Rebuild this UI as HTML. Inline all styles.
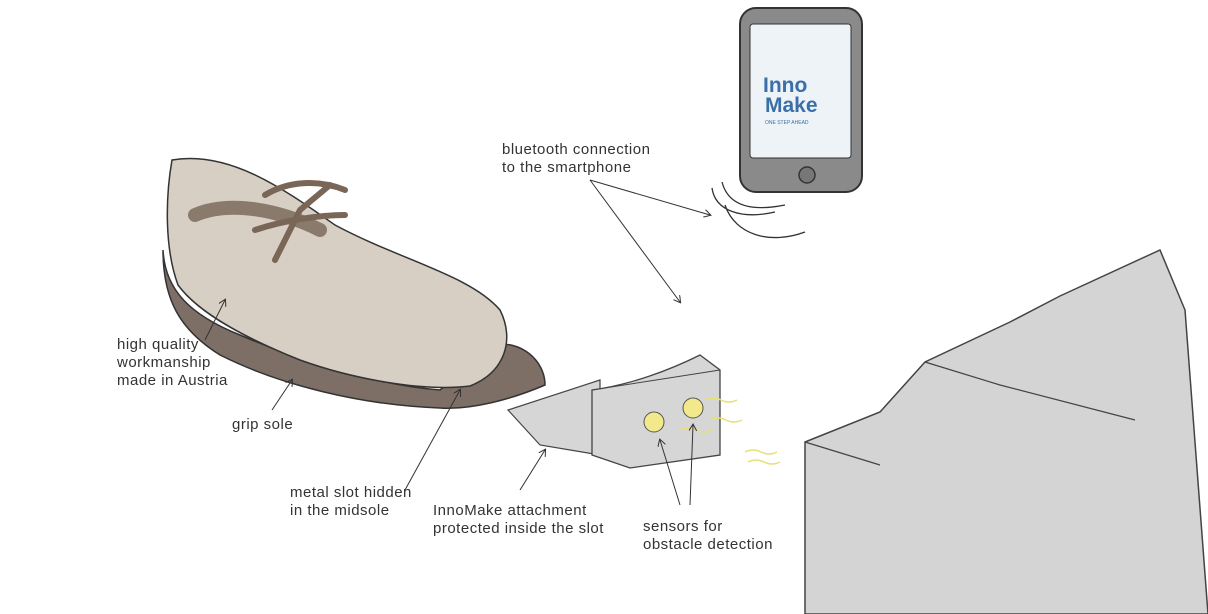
<!DOCTYPE html>
<html><head><meta charset="utf-8"><style>
html,body{margin:0;padding:0;background:#fff;}
svg{display:block}
text{font-family:"Liberation Sans",sans-serif;font-size:15px;letter-spacing:0.5px;fill:#333;}
</style></head><body>
<svg width="1208" height="614" viewBox="0 0 1208 614" xmlns="http://www.w3.org/2000/svg">
<defs><marker id="a" markerWidth="8" markerHeight="8" refX="6" refY="4" orient="auto"><path d="M0,0 L7,4 L0,8" fill="none" stroke="#333"/></marker></defs>
<!-- stairs -->
<polygon points="805,442 880,412 925,362 1010,322 1060,296 1160,250 1185,310 1208,614 805,614" fill="#d4d4d4" stroke="#444" stroke-width="1.5"/>
<path d="M805,442 L880,465 M925,362 L1000,385 L1135,420" stroke="#444" fill="none" stroke-width="1.2"/>
<!-- shoe sole -->
<path d="M163,250 C165,290 190,315 240,335 C310,365 380,385 440,390 L495,345 C520,340 545,360 545,385 C510,400 470,410 440,408 C360,405 280,385 220,355 C180,330 163,300 163,250 Z" fill="#7d6f66" stroke="#333" stroke-width="1.5"/>
<!-- shoe upper -->
<path d="M172,160 C230,150 285,190 335,225 C400,260 470,275 500,310 C515,340 505,372 470,386 C420,392 350,378 300,360 C250,340 200,315 178,285 C165,250 165,200 172,160 Z" fill="#d7cfc4" stroke="#333" stroke-width="1.5"/>
<path d="M195,215 C230,200 280,210 320,230" stroke="#8a7a6b" stroke-width="14" fill="none" stroke-linecap="round"/>
<path d="M265,195 C290,180 320,180 345,190 M255,230 C285,220 320,215 345,215 M275,260 L300,210 L330,185" stroke="#7a6657" stroke-width="6" fill="none" stroke-linecap="round"/>
<!-- phone -->
<rect x="740" y="8" width="122" height="184" rx="16" fill="#8a8a8a" stroke="#333" stroke-width="2"/>
<rect x="750" y="24" width="101" height="134" rx="3" fill="#eef3f8" stroke="#333"/>
<circle cx="807" cy="175" r="8" fill="#777" stroke="#333" stroke-width="1.5"/>
<text x="763" y="92" style="font-size:21px;letter-spacing:0;font-weight:bold;fill:#3a6fa8">Inno</text>
<text x="765" y="112" style="font-size:21px;letter-spacing:0;font-weight:bold;fill:#3a6fa8">Make</text>
<text x="765" y="124" style="font-size:5px;letter-spacing:0;fill:#3a6fa8">ONE STEP AHEAD</text>
<path d="M712,188 C715,210 740,220 775,212 M722,182 C728,205 750,212 785,205 M725,205 C735,235 770,245 805,232" stroke="#333" fill="none" stroke-width="1.3"/>
<!-- attachment -->
<polygon points="508,410 600,380 600,455 540,445" fill="#d6d6d6" stroke="#444" stroke-width="1.2"/>
<path d="M592,390 C630,385 670,370 700,355 L720,370 L720,455 L630,468 L592,455 Z" fill="#d6d6d6" stroke="#444" stroke-width="1.3"/>
<path d="M592,390 L720,370" stroke="#444" fill="none"/>
<circle cx="654" cy="422" r="10" fill="#f2e88c" stroke="#555"/>
<circle cx="693" cy="408" r="10" fill="#f2e88c" stroke="#555"/>
<path d="M705,400 q8,-4 16,0 t16,0 M710,420 q8,-4 16,0 t16,0 M680,430 q8,-4 16,0 t16,0 M745,452 q8,-4 16,0 t16,0 M748,462 q8,-4 16,0 t16,0" stroke="#e8e070" fill="none" stroke-width="1.5"/>
<!-- leader lines -->
<g stroke="#333" stroke-width="1" fill="none" marker-end="url(#a)">
<path d="M590,180 L710,215"/><path d="M590,180 L680,302"/><path d="M205,340 L225,300"/><path d="M272,410 L292,380"/><path d="M405,490 L460,390"/><path d="M520,490 L545,450"/><path d="M680,505 L660,440"/><path d="M690,505 L693,425"/>
</g>
<text x="502" y="154">bluetooth connection</text>
<text x="502" y="172">to the smartphone</text>
<text x="117" y="349">high quality</text>
<text x="117" y="367">workmanship</text>
<text x="117" y="385">made in Austria</text>
<text x="232" y="429">grip sole</text>
<text x="290" y="497">metal slot hidden</text>
<text x="290" y="515">in the midsole</text>
<text x="433" y="515">InnoMake attachment</text>
<text x="433" y="533">protected inside the slot</text>
<text x="643" y="531">sensors for</text>
<text x="643" y="549">obstacle detection</text>
</svg>
</body></html>
